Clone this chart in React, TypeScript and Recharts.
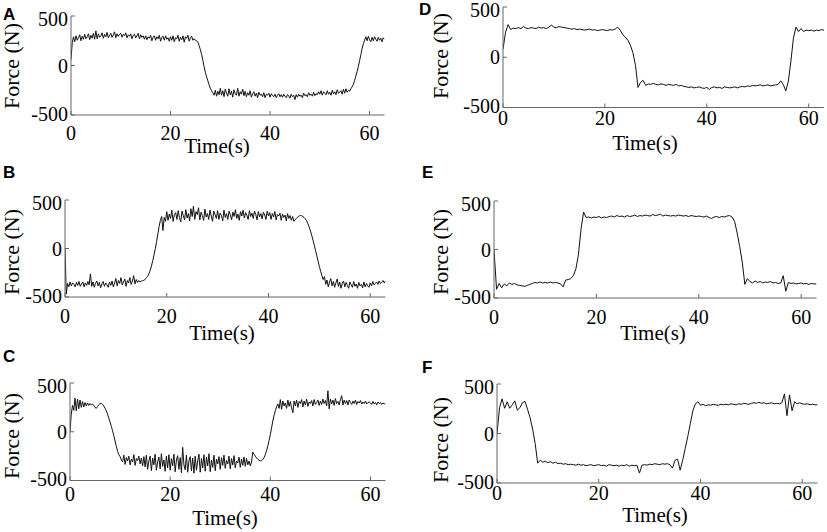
import { Line, LineChart, XAxis, YAxis } from "recharts";

// Force traces, read off the figure. Panels A-C are sampled every 0.25 s,
// panels D-F every 0.5 s. Values in N.
const STEP_FAST = 0.25;
const STEP_SLOW = 0.5;

const forceA = [
  // 0-5 s
  60, 230, 290, 240, 300, 255, 280, 310, 250, 295, 265, 315, 270, 290, 320, 260, 305, 275, 325, 265,
  // 5-10 s
  350, 270, 320, 285, 300, 330, 275, 315, 290, 335, 280, 305, 325, 285, 310, 340, 280, 320, 295, 315,
  // 10-15 s
  325, 285, 315, 300, 330, 280, 310, 295, 320, 270, 305, 315, 280, 300, 325, 270, 310, 285, 300, 265,
  // 15-20 s
  300, 260, 290, 275, 305, 250, 285, 300, 255, 290, 270, 305, 245, 285, 295, 255, 300, 265, 280, 245,
  // 20-25 s
  290, 255, 300, 240, 280, 270, 305, 245, 285, 260, 300, 235, 290, 275, 305, 245, 280, 295, 255, 270,
  // 25-30 s
  255, 250, 235, 200, 160, 110, 50, -10, -70, -115, -155, -195, -230, -255, -275, -300, -250, -310, -260, -295,
  // 30-35 s
  -230, -300, -255, -315, -240, -280, -310, -235, -295, -260, -320, -245, -285, -300, -230, -310, -265, -290, -240, -305,
  // 35-40 s
  -260, -315, -275, -300, -255, -320, -285, -265, -310, -280, -325, -270, -300, -290, -315, -275, -325, -290, -300, -280,
  // 40-45 s
  -320, -285, -305, -315, -290, -325, -300, -285, -315, -295, -320, -290, -310, -325, -295, -305, -330, -290, -315, -300,
  // 45-50 s
  -345, -295, -320, -290, -310, -300, -325, -280, -305, -295, -315, -275, -300, -290, -310, -270, -305, -285, -295, -265,
  // 50-55 s
  -290, -255, -300, -265, -280, -295, -255, -290, -270, -300, -250, -285, -265, -295, -245, -280, -270, -255, -290, -240,
  // 55-60 s
  -280, -235, -270, -250, -260, -235, -215, -190, -150, -105, -60, -10, 50, 110, 170, 220, 255, 290, 250, 295,
  // 60-63 s
  260, 240, 285, 250, 290, 265, 245, 285, 255, 275, 240, 280, 265,
];

const forceB = [
  0, -470, -360, -395, -345, -385, -355, -370, -395, -350, -380, -340, -390, -365, -345, -395, -355, -380, -340, -375,
  -262, -390, -345, -400, -360, -335, -385, -350, -405, -365, -340, -390, -355, -375, -400, -345, -380, -335, -395, -355,
  -310, -385, -330, -360, -300, -375, -345, -315, -390, -330, -355, -300, -370, -335, -280, -365, -320, -350, -330, -345,
  -335, -332, -328, -318, -300, -285, -260, -225, -180, -125, -65, 0, 70, 150, 228, 290, 330, 185, 320, 280,
  380, 290, 355, 310, 395, 280, 350, 370, 300, 390, 320, 275, 385, 340, 295, 400, 315, 360, 285, 410,
  330, 435, 300, 380, 350, 420, 295, 375, 340, 290, 405, 325, 360, 300, 395, 335, 280, 385, 350, 310,
  390, 300, 365, 340, 285, 395, 320, 360, 300, 385, 345, 295, 375, 330, 400, 310, 355, 290, 380, 335,
  395, 315, 370, 340, 300, 390, 330, 365, 310, 385, 350, 295, 380, 325, 360, 305, 375, 345, 300, 385,
  335, 370, 300, 360, 325, 380, 295, 350, 335, 365, 290, 355, 320, 345, 285, 360, 310, 340, 290, 330,
  280, 300, 310, 325, 335, 340, 338, 330, 320, 305, 285, 255, 220, 180, 135, 85, 35, -20, -75, -130,
  -185, -235, -280, -320, -290, -370, -325, -395, -345, -310, -385, -340, -400, -355, -315, -390, -345, -410, -360, -335,
  -395, -350, -380, -410, -345, -375, -400, -340, -390, -365, -410, -350, -385, -370, -405, -345, -395, -360, -385, -400,
  -355, -385, -340, -375, -360, -345, -370, -335, -360, -350, -330, -355, -335,
];

const forceC = [
  0, 180, 270, 220, 345, 215, 335, 235, 325, 250, 310, 255, 300, 265, 295, 270, 290, 275, 285, 270,
  250, 240, 260, 278, 288, 290, 282, 265, 240, 215, 180, 140, 100, 55, 10, -40, -95, -150, -200, -235,
  -255, -290, -310, -240, -335, -265, -300, -250, -340, -280, -310, -235, -345, -275, -295, -250, -330, -270, -350, -255,
  -360, -240, -385, -300, -250, -400, -270, -340, -230, -395, -310, -260, -380, -225, -355, -290, -405, -250, -370, -235,
  -395, -275, -350, -230, -410, -290, -245, -385, -265, -420, -160, -340, -390, -240, -415, -300, -255, -400, -270, -425,
  -250, -395, -300, -230, -415, -275, -370, -235, -405, -260, -350, -225, -410, -290, -365, -240, -400, -280, -330, -255,
  -385, -265, -345, -240, -375, -295, -330, -250, -380, -275, -340, -245, -370, -300, -320, -260, -365, -280, -345, -260,
  -355, -275, -340, -300, -350, -310, -210, -230, -250, -268, -282, -292, -298, -296, -285, -265, -235, -195, -145, -90,
  -30, 40, 110, 170, 215, 255, 285, 240, 330, 230, 315, 265, 295, 240, 325, 260, 310, 245, 195, 315,
  265, 325, 250, 310, 290, 330, 255, 315, 275, 335, 260, 305, 290, 320, 265, 330, 280, 300, 325, 270,
  315, 280, 335, 290, 320, 265, 420, 235, 335, 285, 325, 270, 340, 290, 310, 275, 330, 370, 275, 325,
  290, 320, 275, 325, 300, 280, 315, 290, 325, 280, 310, 295, 320, 285, 305, 290, 315, 285, 300, 305,
  295, 280, 310, 285, 300, 275, 305, 290, 300, 280, 295, 285, 290,
];

const forceD = [
  80, 250, 325, 275, 290, 285, 295, 285, 305, 290,
  285, 295, 290, 285, 300, 290, 295, 285, 300, 320,
  300, 295, 305, 300, 295, 290, 285, 280, 285, 275,
  280, 275, 270, 275, 280, 270, 275, 265, 270, 275,
  270, 265, 275, 270, 280, 300, 270, 225, 200, 170,
  120, 45, -80, -300, -250, -230, -280, -265, -270, -260,
  -270, -275, -265, -270, -280, -270, -275, -280, -270, -285,
  -280, -290, -295, -300, -295, -305, -300, -295, -305, -310,
  -300, -320, -300, -295, -305, -300, -310, -295, -300, -305,
  -300, -295, -305, -295, -290, -295, -285, -290, -280, -285,
  -280, -275, -285, -280, -275, -285, -280, -275, -270, -235,
  -270, -335, -240, -40, 190, 300, 255, 285, 255, 270,
  265, 270, 260, 270, 265, 275, 270,
];

const forceE = [
  0, -410, -350, -395, -355, -375, -345, -360, -350, -365,
  -370, -375, -380, -370, -360, -350, -340, -345, -335, -345,
  -340, -345, -335, -345, -340, -345, -355, -385, -315, -310,
  -300, -270, -200, -50, 210, 385, 330, 335, 325, 335,
  330, 340, 325, 335, 330, 340, 345, 335, 350, 340,
  345, 335, 350, 340, 345, 355, 340, 350, 345, 355,
  350, 345, 360, 350, 355, 365, 345, 355, 350, 345,
  350, 345, 355, 350, 345, 350, 340, 350, 345, 340,
  345, 340, 335, 345, 330, 320, 335, 340, 330, 340,
  335, 345, 350, 335, 290, 170, 30, -130, -360, -300,
  -330, -345, -325, -340, -330, -345, -335, -340, -330, -345,
  -340, -350, -345, -270, -430, -340, -350, -345, -355, -350,
  -345, -355, -350, -360, -350, -355, -355,
];

const forceF = [
  0, 260, 350, 255, 320, 255, 290, 330, 235, 260,
  310, 325, 245, 160, 45, -100, -300, -270, -290, -280,
  -295, -285, -300, -290, -305, -300, -310, -305, -315, -310,
  -315, -320, -310, -320, -315, -325, -320, -315, -325, -320,
  -315, -325, -320, -330, -315, -320, -325, -320, -330, -320,
  -325, -315, -330, -320, -325, -320, -400, -320, -315, -320,
  -310, -315, -305, -310, -315, -305, -310, -305, -315, -350,
  -270, -260, -370, -270, -150, -30, 100, 230, 300, 320,
  285, 295, 280, 290, 285, 295, 290, 285, 295, 290,
  295, 290, 300, 295, 290, 300, 295, 305, 300, 295,
  305, 310, 305, 315, 305, 310, 300, 305, 310, 300,
  305, 300, 310, 400, 180, 390, 230, 320, 300, 310,
  300, 295, 300, 290, 295, 290, 290,
];

const TIME_DOMAIN: [number, number] = [0, 63];
const FORCE_DOMAIN: [number, number] = [-500, 500];
const TIME_TICKS = [0, 20, 40, 60];
const FORCE_TICKS = [-500, 0, 500];

const SERIF = '"Liberation Serif", "Times New Roman", serif';
const SANS = '"Liberation Sans", Arial, sans-serif';
const AXIS_COLOR = "#666";
const TICK_LEN = 4;

// room around each plot box for tick labels
const PAD_LEFT = 46;
const PAD_TOP = 14;
const PAD_RIGHT = 6;
const PAD_BOTTOM = 32;

type Panel = {
  id: string;
  forces: number[];
  step: number;
  box: { left: number; top: number; width: number; height: number };
  tickGap: number;
  letter: { x: number; y: number };
  yTitle: { x: number; y: number };
  xTitle: { x: number; y: number };
};

const panels: Panel[] = [
  {
    id: "A",
    forces: forceA,
    step: STEP_FAST,
    box: { left: 70.5, top: 16, width: 313.5, height: 99 },
    tickGap: 25,
    letter: { x: 3, y: 20 },
    yTitle: { x: 11, y: 66 },
    xTitle: { x: 217, y: 153 },
  },
  {
    id: "B",
    forces: forceB,
    step: STEP_FAST,
    box: { left: 64.5, top: 200, width: 320.5, height: 97 },
    tickGap: 26,
    letter: { x: 3, y: 178 },
    yTitle: { x: 11, y: 252 },
    xTitle: { x: 222, y: 340 },
  },
  {
    id: "C",
    forces: forceC,
    step: STEP_FAST,
    box: { left: 70, top: 382.5, width: 315.5, height: 97.5 },
    tickGap: 20,
    letter: { x: 3, y: 362 },
    yTitle: { x: 11, y: 436 },
    xTitle: { x: 225, y: 525 },
  },
  {
    id: "D",
    forces: forceD,
    step: STEP_SLOW,
    box: { left: 502.5, top: 7, width: 321, height: 100.5 },
    tickGap: 17,
    letter: { x: 419, y: 15 },
    yTitle: { x: 440, y: 56 },
    xTitle: { x: 645, y: 150 },
  },
  {
    id: "E",
    forces: forceE,
    step: STEP_SLOW,
    box: { left: 493.5, top: 200.5, width: 322.5, height: 97 },
    tickGap: 26,
    letter: { x: 422, y: 178 },
    yTitle: { x: 440, y: 252 },
    xTitle: { x: 653, y: 340 },
  },
  {
    id: "F",
    forces: forceF,
    step: STEP_SLOW,
    box: { left: 496.5, top: 383.5, width: 320.5, height: 99 },
    tickGap: 17,
    letter: { x: 422, y: 373 },
    yTitle: { x: 440, y: 440 },
    xTitle: { x: 655, y: 522 },
  },
];

type TickProps = { x?: number; y?: number; payload?: { value: number } };

function BottomTick({ x = 0, y = 0, payload, gap }: TickProps & { gap: number }) {
  return (
    <g>
      <line x1={x} x2={x} y1={y} y2={y - TICK_LEN} stroke={AXIS_COLOR} />
      <text x={x} y={y + gap} textAnchor="middle" fontSize={20} fontFamily={SERIF} fill="#000">
        {payload?.value}
      </text>
    </g>
  );
}

function TopTick({ x = 0, y = 0 }: TickProps) {
  return <line x1={x} x2={x} y1={y} y2={y + TICK_LEN} stroke={AXIS_COLOR} />;
}

function LeftTick({ x = 0, y = 0, payload }: TickProps) {
  const value = payload?.value ?? 0;
  // MATLAB nudges the end labels inwards a little
  const nudge = value > 0 ? 3 : value < 0 ? -1.5 : 0;
  return (
    <g>
      <line x1={x} x2={x + TICK_LEN} y1={y} y2={y} stroke={AXIS_COLOR} />
      <text
        x={x - 3}
        y={y + nudge}
        dy="0.35em"
        textAnchor="end"
        fontSize={20}
        fontFamily={SERIF}
        fill="#000"
      >
        {value}
      </text>
    </g>
  );
}

function RightTick({ x = 0, y = 0 }: TickProps) {
  return <line x1={x} x2={x - TICK_LEN} y1={y} y2={y} stroke={AXIS_COLOR} />;
}

function ForcePanel({ panel }: { panel: Panel }) {
  const { box } = panel;
  const data = panel.forces.map((force, i) => ({ time: i * panel.step, force }));

  return (
    <div
      style={{
        position: "absolute",
        left: box.left - PAD_LEFT,
        top: box.top - PAD_TOP,
      }}
    >
      <LineChart
        width={box.width + PAD_LEFT + PAD_RIGHT}
        height={box.height + PAD_TOP + PAD_BOTTOM}
        data={data}
        margin={{ top: PAD_TOP, right: PAD_RIGHT, bottom: 0, left: 0 }}
      >
        <XAxis
          dataKey="time"
          type="number"
          domain={TIME_DOMAIN}
          ticks={TIME_TICKS}
          interval={0}
          allowDataOverflow
          height={PAD_BOTTOM}
          tickSize={0}
          tickMargin={0}
          stroke={AXIS_COLOR}
          tick={(props: TickProps) => <BottomTick {...props} gap={panel.tickGap} />}
        />
        <XAxis
          xAxisId="top"
          orientation="top"
          type="number"
          domain={TIME_DOMAIN}
          ticks={TIME_TICKS}
          interval={0}
          allowDataOverflow
          height={0}
          tickSize={0}
          tickMargin={0}
          stroke={AXIS_COLOR}
          tick={(props: TickProps) => <TopTick {...props} />}
        />
        <YAxis
          type="number"
          domain={FORCE_DOMAIN}
          ticks={FORCE_TICKS}
          interval={0}
          allowDataOverflow
          width={PAD_LEFT}
          tickSize={0}
          tickMargin={0}
          stroke={AXIS_COLOR}
          tick={(props: TickProps) => <LeftTick {...props} />}
        />
        <YAxis
          yAxisId="right"
          orientation="right"
          type="number"
          domain={FORCE_DOMAIN}
          ticks={FORCE_TICKS}
          interval={0}
          allowDataOverflow
          width={0}
          tickSize={0}
          tickMargin={0}
          stroke={AXIS_COLOR}
          tick={(props: TickProps) => <RightTick {...props} />}
        />
        <Line
          type="linear"
          dataKey="force"
          stroke="#111"
          strokeWidth={1}
          dot={false}
          activeDot={false}
          isAnimationActive={false}
        />
      </LineChart>
    </div>
  );
}

export default function App() {
  return (
    <div style={{ position: "absolute", left: 0, top: 0, width: 827, height: 532, background: "#fff" }}>
      {panels.map((panel) => (
        <ForcePanel key={panel.id} panel={panel} />
      ))}
      <svg
        width={827}
        height={532}
        style={{ position: "absolute", left: 0, top: 0, pointerEvents: "none" }}
      >
        {panels.map((panel) => (
          <g key={panel.id}>
            <text
              x={panel.letter.x}
              y={panel.letter.y}
              fontFamily={SANS}
              fontWeight="bold"
              fontSize={17}
              fill="#000"
            >
              {panel.id}
            </text>
            <text
              x={panel.yTitle.x}
              y={panel.yTitle.y}
              transform={`rotate(-90 ${panel.yTitle.x} ${panel.yTitle.y})`}
              textAnchor="middle"
              dominantBaseline="central"
              fontFamily={SERIF}
              fontSize={22}
              fill="#000"
            >
              Force (N)
            </text>
            <text
              x={panel.xTitle.x}
              y={panel.xTitle.y}
              textAnchor="middle"
              fontFamily={SERIF}
              fontSize={21}
              fill="#000"
            >
              Time(s)
            </text>
          </g>
        ))}
      </svg>
    </div>
  );
}
